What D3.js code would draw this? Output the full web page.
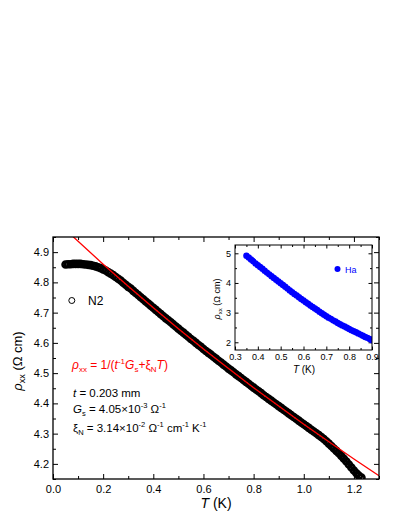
<!DOCTYPE html>
<html>
<head>
<meta charset="utf-8">
<script src="https://cdn.jsdelivr.net/npm/d3@7"></script>
<style>
  html, body { margin: 0; padding: 0; background: #fff; }
  svg { display: block; }
  text { font-family: "Liberation Sans", Arial, Helvetica, sans-serif; }
</style>
</head>
<body>
<svg id="chart" width="399" height="516"></svg>
<script>
// ---------- DATA ----------
// Main data set N2: temperature (K) and rho_xx (Ohm cm)
const mainT = [0.05,0.06,0.07,0.08,0.09,0.10,0.11,0.12,0.13,0.14,0.15,0.16,0.17,0.18,0.19,0.20,
  0.21,0.22,0.23,0.24,0.25,0.26,0.27,0.28,0.29,0.30,0.31,0.32,0.33,0.34,0.35,0.36,0.37,0.38,0.39,0.40,
  0.41,0.42,0.43,0.44,0.45,0.46,0.47,0.48,0.49,0.50,0.51,0.52,0.53,0.54,0.55,0.56,0.57,0.58,0.59,0.60,
  0.61,0.62,0.63,0.64,0.65,0.66,0.67,0.68,0.69,0.70,0.71,0.72,0.73,0.74,0.75,0.76,0.77,0.78,0.79,0.80,
  0.81,0.82,0.83,0.84,0.85,0.86,0.87,0.88,0.89,0.90,0.91,0.92,0.93,0.94,0.95,0.96,0.97,0.98,0.99,1.00,
  1.01,1.02,1.03,1.04,1.05,1.06,1.07,1.08,1.09,1.10,1.11,1.12,1.13,1.14,1.15,1.16,1.17,1.18,1.19,1.20,
  1.21,1.22,1.23];
const mainRho = [4.859,4.860,4.860,4.861,4.861,4.861,4.861,4.860,4.859,4.858,4.857,4.855,4.853,4.850,4.847,4.843,
  4.839,4.834,4.829,4.824,4.818,4.812,4.806,4.799,4.792,4.785,4.780,4.772,4.765,4.758,4.751,4.744,4.737,4.730,4.723,4.716,
  4.709,4.702,4.695,4.688,4.681,4.675,4.668,4.661,4.654,4.647,4.640,4.634,4.627,4.620,4.613,4.607,4.600,4.593,4.587,4.580,
  4.573,4.567,4.561,4.554,4.548,4.541,4.535,4.528,4.522,4.515,4.509,4.503,4.496,4.490,4.484,4.477,4.471,4.465,4.458,4.452,
  4.446,4.440,4.434,4.427,4.421,4.415,4.409,4.403,4.397,4.391,4.385,4.379,4.373,4.367,4.361,4.355,4.349,4.343,4.337,4.331,
  4.325,4.319,4.313,4.307,4.301,4.295,4.289,4.282,4.275,4.267,4.259,4.251,4.243,4.235,4.226,4.217,4.208,4.198,4.188,4.178,
  4.169,4.161,4.155];

// Red fit line
const fitT   = [0.0, 0.1, 0.2, 0.3, 0.4, 0.5, 0.6, 0.7, 0.8, 0.9, 1.0, 1.1, 1.2, 1.3];
const fitRho = [5.012,4.936,4.860,4.787,4.716,4.647,4.580,4.515,4.452,4.391,4.331,4.273,4.216,4.161];

// Inset data set Ha
const insetT = [0.35,0.36,0.37,0.38,0.39,0.40,0.41,0.42,0.43,0.44,0.45,0.46,0.47,0.48,0.49,0.50,
  0.51,0.52,0.53,0.54,0.55,0.56,0.57,0.58,0.59,0.60,0.61,0.62,0.63,0.64,0.65,0.66,0.67,0.68,0.69,0.70,
  0.71,0.72,0.73,0.74,0.75,0.76,0.77,0.78,0.79,0.80,0.81,0.82,0.83,0.84,0.85,0.86,0.87,0.88,0.89,0.90];
const insetRho = [4.92,4.86,4.79,4.73,4.66,4.60,4.54,4.48,4.41,4.35,4.29,4.23,4.17,4.11,4.05,3.99,
  3.93,3.87,3.81,3.75,3.69,3.63,3.58,3.52,3.46,3.41,3.35,3.30,3.24,3.19,3.14,3.09,3.03,2.98,2.93,2.88,
  2.83,2.79,2.74,2.70,2.65,2.61,2.57,2.53,2.49,2.45,2.41,2.37,2.34,2.30,2.26,2.22,2.18,2.15,2.11,2.07];

// Tick values / labels
const mainXTicks = [0.0, 0.2, 0.4, 0.6, 0.8, 1.0, 1.2];
const mainXMinor = [0.1, 0.3, 0.5, 0.7, 0.9, 1.1, 1.3];
const mainYTicks = [4.2, 4.3, 4.4, 4.5, 4.6, 4.7, 4.8, 4.9];
const mainYMinor = [4.15, 4.25, 4.35, 4.45, 4.55, 4.65, 4.75, 4.85, 4.95];
const insetXTicks = [0.3, 0.4, 0.5, 0.6, 0.7, 0.8, 0.9];
const insetXMinor = [0.35, 0.45, 0.55, 0.65, 0.75, 0.85];
const insetYTicks = [2, 3, 4, 5];
const insetYMinor = [2.5, 3.5, 4.5];

// ---------- DRAW ----------
const svg = d3.select("#chart");

// Main plot box
const M = {left: 53, top: 237, right: 379, bottom: 479};
const x = d3.scaleLinear().domain([0, 1.3]).range([M.left, M.right]);
const y = d3.scaleLinear().domain([4.15, 4.95]).range([M.bottom, M.top]);

svg.append("defs").append("clipPath").attr("id", "mainclip")
  .append("rect").attr("x", M.left).attr("y", M.top)
  .attr("width", M.right - M.left).attr("height", M.bottom - M.top);

function styleAxis(g, fs) {
  g.select(".domain").remove();
  g.selectAll("line").attr("stroke", "#000").attr("stroke-width", 1);
  g.selectAll("text").attr("font-size", fs).attr("fill", "#000")
    .attr("font-family", "'Liberation Sans', Arial, sans-serif");
}

// main axes (ticks inside)
const fmt1 = d3.format(".1f");
svg.append("g").attr("transform", `translate(0,${M.bottom})`)
  .call(d3.axisBottom(x).tickValues(mainXTicks).tickFormat(fmt1).tickSize(-5).tickSizeOuter(0).tickPadding(6))
  .call(g => styleAxis(g, 11));
svg.append("g").attr("transform", `translate(0,${M.bottom})`)
  .call(d3.axisBottom(x).tickValues(mainXMinor).tickFormat("").tickSize(-3).tickSizeOuter(0))
  .call(g => styleAxis(g, 11));
svg.append("g").attr("transform", `translate(0,${M.top})`)
  .call(d3.axisTop(x).tickValues(mainXTicks).tickFormat("").tickSize(-5).tickSizeOuter(0))
  .call(g => styleAxis(g, 11));
svg.append("g").attr("transform", `translate(0,${M.top})`)
  .call(d3.axisTop(x).tickValues(mainXMinor).tickFormat("").tickSize(-3).tickSizeOuter(0))
  .call(g => styleAxis(g, 11));
svg.append("g").attr("transform", `translate(${M.left},0)`)
  .call(d3.axisLeft(y).tickValues(mainYTicks).tickFormat(fmt1).tickSize(-5).tickSizeOuter(0).tickPadding(4))
  .call(g => styleAxis(g, 11));
svg.append("g").attr("transform", `translate(${M.left},0)`)
  .call(d3.axisLeft(y).tickValues(mainYMinor).tickFormat("").tickSize(-3).tickSizeOuter(0))
  .call(g => styleAxis(g, 11));
svg.append("g").attr("transform", `translate(${M.right},0)`)
  .call(d3.axisRight(y).tickValues(mainYTicks).tickFormat("").tickSize(-5).tickSizeOuter(0))
  .call(g => styleAxis(g, 11));
svg.append("g").attr("transform", `translate(${M.right},0)`)
  .call(d3.axisRight(y).tickValues(mainYMinor).tickFormat("").tickSize(-3).tickSizeOuter(0))
  .call(g => styleAxis(g, 11));

// main data: open circles (dense, forming a band)
const mainData = mainT.map((t, i) => ({t, r: mainRho[i]}));
svg.append("g").attr("clip-path", "url(#mainclip)")
  .selectAll("circle").data(mainData).enter().append("circle")
  .attr("cx", d => x(d.t)).attr("cy", d => y(d.r)).attr("r", 3)
  .attr("fill", "none").attr("stroke", "#000").attr("stroke-width", 2.6);

// red fit line
const fitData = fitT.map((t, i) => ({t, r: fitRho[i]}));
svg.append("path").datum(fitData).attr("clip-path", "url(#mainclip)")
  .attr("d", d3.line().x(d => x(d.t)).y(d => y(d.r)))
  .attr("fill", "none").attr("stroke", "#ff0000").attr("stroke-width", 1.3);

// frame
svg.append("rect").attr("x", M.left).attr("y", M.top)
  .attr("width", M.right - M.left).attr("height", M.bottom - M.top)
  .attr("fill", "none").attr("stroke", "#000").attr("stroke-width", 1.3);

// axis titles
svg.append("text").attr("x", 216).attr("y", 508).attr("text-anchor", "middle")
  .attr("font-size", 14)
  .html('<tspan font-style="italic">T</tspan> (K)');
svg.append("text").attr("transform", "translate(22,361) rotate(-90)").attr("text-anchor", "middle")
  .attr("font-size", 13)
  .html('<tspan font-style="italic">ρ</tspan><tspan font-size="9" dy="3">xx</tspan><tspan dy="-3"> (Ω cm)</tspan>');

// legend N2
svg.append("circle").attr("cx", x(0.075)).attr("cy", 300.5).attr("r", 3)
  .attr("fill", "none").attr("stroke", "#000").attr("stroke-width", 1);
svg.append("text").attr("x", 88).attr("y", 305).attr("font-size", 12).text("N2");

// formula and parameters
svg.append("text").attr("x", 72).attr("y", 369).attr("font-size", 12).attr("fill", "#ff0000")
  .html('<tspan font-style="italic">ρ</tspan><tspan font-size="8" dy="3">xx</tspan><tspan dy="-3"> = 1/(</tspan><tspan font-style="italic">t</tspan><tspan font-size="8" dy="-5">-1</tspan><tspan dy="5" font-style="italic">G</tspan><tspan font-size="8" dy="3">s</tspan><tspan dy="-3">+ξ</tspan><tspan font-size="8" dy="3">N</tspan><tspan dy="-3" font-style="italic">T</tspan><tspan>)</tspan>');
svg.append("text").attr("x", 73).attr("y", 397).attr("font-size", 11.5)
  .html('<tspan font-style="italic">t</tspan> = 0.203 mm');
svg.append("text").attr("x", 73).attr("y", 413).attr("font-size", 11.5)
  .html('<tspan font-style="italic">G</tspan><tspan font-size="7.5" dy="3">s</tspan><tspan dy="-3"> = 4.05×10</tspan><tspan font-size="7.5" dy="-5">-3</tspan><tspan dy="5"> Ω</tspan><tspan font-size="7.5" dy="-5">-1</tspan>');
svg.append("text").attr("x", 73).attr("y", 432).attr("font-size", 11.5)
  .html('ξ<tspan font-size="7.5" dy="3">N</tspan><tspan dy="-3"> = 3.14×10</tspan><tspan font-size="7.5" dy="-5">-2</tspan><tspan dy="5"> Ω</tspan><tspan font-size="7.5" dy="-5">-1</tspan><tspan dy="5"> cm</tspan><tspan font-size="7.5" dy="-5">-1</tspan><tspan dy="5"> K</tspan><tspan font-size="7.5" dy="-5">-1</tspan>');

// ---------- INSET ----------
const I = {left: 235, top: 245, right: 372, bottom: 350};
const xi = d3.scaleLinear().domain([0.3, 0.9]).range([I.left, I.right]);
const yi = d3.scaleLinear().domain([1.74, 5.28]).range([I.bottom, I.top]);

svg.append("rect").attr("x", I.left).attr("y", I.top)
  .attr("width", I.right - I.left).attr("height", I.bottom - I.top).attr("fill", "#fff");

svg.append("defs").append("clipPath").attr("id", "insetclip")
  .append("rect").attr("x", I.left).attr("y", I.top)
  .attr("width", I.right - I.left).attr("height", I.bottom - I.top);

svg.append("g").attr("transform", `translate(0,${I.bottom})`)
  .call(d3.axisBottom(xi).tickValues(insetXTicks).tickFormat(fmt1).tickSize(-3.5).tickSizeOuter(0).tickPadding(4))
  .call(g => styleAxis(g, 9));
svg.append("g").attr("transform", `translate(0,${I.bottom})`)
  .call(d3.axisBottom(xi).tickValues(insetXMinor).tickFormat("").tickSize(-2).tickSizeOuter(0))
  .call(g => styleAxis(g, 9));
svg.append("g").attr("transform", `translate(0,${I.top})`)
  .call(d3.axisTop(xi).tickValues(insetXTicks).tickFormat("").tickSize(-3.5).tickSizeOuter(0))
  .call(g => styleAxis(g, 9));
svg.append("g").attr("transform", `translate(0,${I.top})`)
  .call(d3.axisTop(xi).tickValues(insetXMinor).tickFormat("").tickSize(-2).tickSizeOuter(0))
  .call(g => styleAxis(g, 9));
svg.append("g").attr("transform", `translate(${I.left},0)`)
  .call(d3.axisLeft(yi).tickValues(insetYTicks).tickFormat(d3.format("d")).tickSize(-3.5).tickSizeOuter(0).tickPadding(4))
  .call(g => styleAxis(g, 9));
svg.append("g").attr("transform", `translate(${I.left},0)`)
  .call(d3.axisLeft(yi).tickValues(insetYMinor).tickFormat("").tickSize(-2).tickSizeOuter(0))
  .call(g => styleAxis(g, 9));
svg.append("g").attr("transform", `translate(${I.right},0)`)
  .call(d3.axisRight(yi).tickValues(insetYTicks).tickFormat("").tickSize(-3.5).tickSizeOuter(0))
  .call(g => styleAxis(g, 9));
svg.append("g").attr("transform", `translate(${I.right},0)`)
  .call(d3.axisRight(yi).tickValues(insetYMinor).tickFormat("").tickSize(-2).tickSizeOuter(0))
  .call(g => styleAxis(g, 9));

const insetData = insetT.map((t, i) => ({t, r: insetRho[i]}));
svg.append("g").attr("clip-path", "url(#insetclip)")
  .selectAll("circle").data(insetData).enter().append("circle")
  .attr("cx", d => xi(d.t)).attr("cy", d => yi(d.r)).attr("r", 3.2)
  .attr("fill", "#0000ff").attr("stroke", "none");

svg.append("rect").attr("x", I.left).attr("y", I.top)
  .attr("width", I.right - I.left).attr("height", I.bottom - I.top)
  .attr("fill", "none").attr("stroke", "#000").attr("stroke-width", 1);

// inset legend
svg.append("circle").attr("cx", 337.5).attr("cy", 269).attr("r", 3).attr("fill", "#0000ff");
svg.append("text").attr("x", 345).attr("y", 272.5).attr("font-size", 9).attr("fill", "#0000ff").text("Ha");

// inset axis titles
svg.append("text").attr("x", 304).attr("y", 373).attr("text-anchor", "middle").attr("font-size", 10)
  .html('<tspan font-style="italic">T</tspan> (K)');
svg.append("text").attr("transform", "translate(220,299) rotate(-90)").attr("text-anchor", "middle")
  .attr("font-size", 9)
  .html('<tspan font-style="italic">ρ</tspan><tspan font-size="6" dy="2">xx</tspan><tspan dy="-2"> (Ω cm)</tspan>');
</script>
</body>
</html>
